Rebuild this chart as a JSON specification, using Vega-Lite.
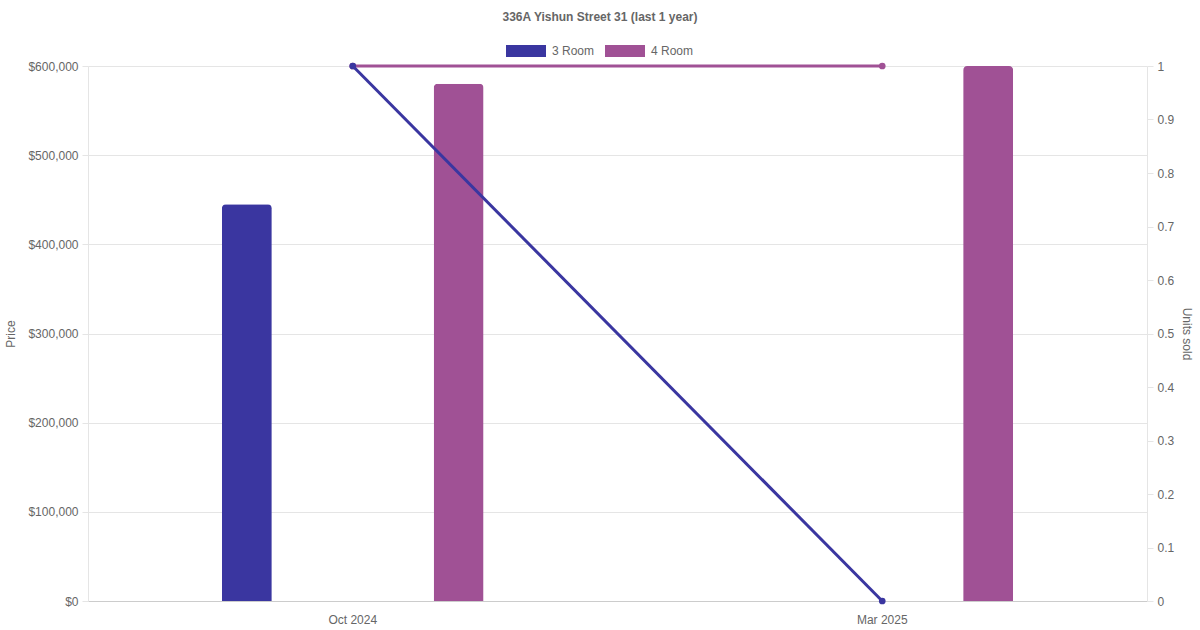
{
  "$schema": "https://vega.github.io/schema/vega-lite/v6.json",
  "width": 1059,
  "height": 535,
  "autosize": {"type": "none"},
  "padding": {"left": 88, "top": 66, "right": 53, "bottom": 29},
  "background": "white",
  "config": {
    "font": "Liberation Sans",
    "view": {"stroke": null},
    "axis": {"labelColor": "#666666", "titleColor": "#666666", "labelFontSize": 12, "titleFontSize": 12, "titleFontWeight": "normal", "gridColor": "#e5e5e5", "tickColor": "#e5e5e5", "domainColor": "#e5e5e5"}
  },
  "title": {
    "text": "336A Yishun Street 31 (last 1 year)",
    "fontSize": 12,
    "fontWeight": "bold",
    "color": "#666",
    "anchor": "middle",
    "dx": -17.5,
    "offset": 7
  },
  "data": {
    "values": [
      {"month": "Oct 2024", "room": "3 Room", "price": 445000, "units": 1},
      {"month": "Oct 2024", "room": "4 Room", "price": 580000, "units": 1},
      {"month": "Mar 2025", "room": "3 Room", "price": null, "units": 0},
      {"month": "Mar 2025", "room": "4 Room", "price": 600000, "units": 1}
    ]
  },
  "encoding": {
    "x": {
      "field": "month",
      "type": "nominal",
      "sort": ["Oct 2024", "Mar 2025"],
      "scale": {"paddingInner": 0, "paddingOuter": 0},
      "axis": {"title": null, "labelAngle": 0, "ticks": false, "labelPadding": 13, "domainColor": "#cccccc", "grid": false}
    }
  },
  "layer": [
    {
      "transform": [{"filter": "datum.price != null"}],
      "mark": {"type": "bar", "width": 50, "cornerRadiusTopLeft": 4, "cornerRadiusTopRight": 4},
      "encoding": {
        "xOffset": {"field": "room", "type": "nominal", "scale": {"domain": ["3 Room", "4 Room"], "paddingInner": 0, "paddingOuter": 0.25}},
        "y": {
          "field": "price",
          "type": "quantitative",
          "scale": {"domain": [0, 600000], "nice": false},
          "axis": {"orient": "left", "title": "Price", "format": "$,.0f", "values": [0, 100000, 200000, 300000, 400000, 500000, 600000], "tickSize": 6, "labelPadding": 4, "titlePadding": 10, "domain": true, "labelColor": "#666666"}
        },
        "color": {
          "field": "room",
          "type": "nominal",
          "scale": {"domain": ["3 Room", "4 Room"], "range": ["#3a36a0", "#a05195"]},
          "legend": {
            "title": null,
            "orient": "none",
            "direction": "horizontal",
            "legendX": 418,
            "legendY": -35,
            "symbolType": "M-1,-0.3H1V0.3H-1Z",
            "symbolSize": 1600,
            "symbolStrokeWidth": 0,
            "labelFontSize": 12,
            "labelColor": "#666666",
            "labelOffset": 6,
            "columnPadding": 10
          }
        }
      }
    },
    {
      "encoding": {
        "y": {
          "field": "units",
          "type": "quantitative",
          "scale": {"domain": [0, 1], "nice": false},
          "axis": {"orient": "right", "title": "Units sold", "titleAngle": 90, "values": [0, 0.1, 0.2, 0.3, 0.4, 0.5, 0.6, 0.7, 0.8, 0.9, 1], "format": "~g", "tickSize": 6, "labelPadding": 4, "grid": false, "titlePadding": 6, "domain": true, "labelColor": "#666666", "titleColor": "#666666"}
        }
      },
      "layer": [
        {
          "transform": [{"filter": "datum.room == '4 Room'"}],
          "mark": {"type": "line", "strokeWidth": 3, "color": "#a05195"}
        },
        {
          "transform": [{"filter": "datum.room == '4 Room'"}],
          "mark": {"type": "point", "filled": true, "size": 45, "opacity": 1, "color": "#a05195"}
        },
        {
          "transform": [{"filter": "datum.room == '3 Room'"}],
          "mark": {"type": "line", "strokeWidth": 3, "color": "#3a36a0"}
        },
        {
          "transform": [{"filter": "datum.room == '3 Room'"}],
          "mark": {"type": "point", "filled": true, "size": 45, "opacity": 1, "color": "#3a36a0"}
        }
      ]
    }
  ],
  "resolve": {"scale": {"y": "independent"}, "axis": {"y": "independent"}}
}
